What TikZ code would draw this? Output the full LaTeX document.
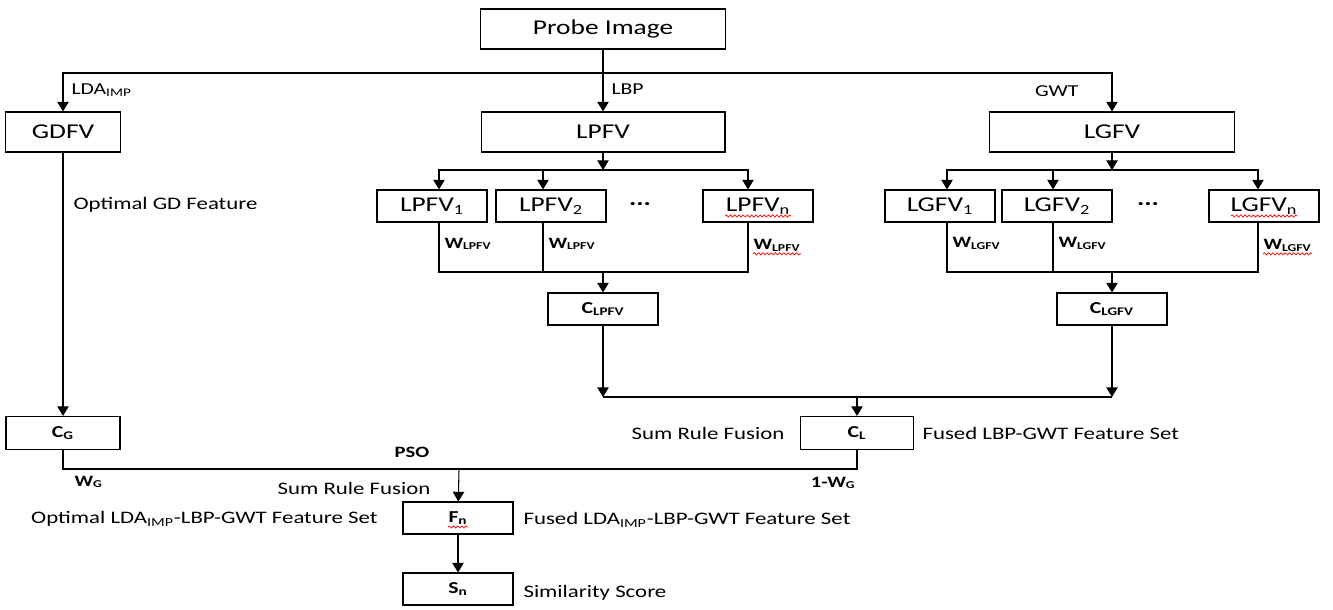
\documentclass[tikz,border=0pt]{standalone}
\usepackage{fontspec}
\setmainfont{Carlito}[FakeStretch=1.3]
\usepackage{tikz}
\usetikzlibrary{arrows.meta, positioning, decorations.pathmorphing}
\tikzset{%
	box/.style={
		draw,
		inner sep=0pt,
		minimum height=0.64cm,
		minimum width=2.2cm,
		font=\fontsize{12}{14}\selectfont
	},
	bigbox/.style={box, minimum height=0.8cm},
	cbox/.style={box, font=\fontsize{9.5}{11}\selectfont\bfseries},
	arr/.style={-{Triangle[length=5.5pt,width=6.5pt]}},
	lab/.style={inner sep=0pt, font=\fontsize{10}{12}\selectfont},
	toplab/.style={inner sep=0pt, font=\fontsize{9.5}{11}\selectfont},
	wlab/.style={inner sep=0pt, font=\fontsize{9}{11}\selectfont\bfseries},
	spell/.style={red, line width=0.4pt, decorate,
		decoration={snake, amplitude=0.6pt, segment length=2.4pt}},
}

\begin{document}
\begin{tikzpicture}[x=0.02cm, y=-0.02cm, line width=0.6pt]
			\useasboundingbox (0,0) rectangle (1333,609);
			
			% first level
			\node[bigbox, minimum width=4.9cm] (probe) at (603,29) {Probe Image};
			\node[bigbox, minimum width=2.3cm] (gdfv) at (63,132) {GDFV};
			\node[bigbox, minimum width=4.88cm] (lpfv) at (603,132) {LPFV};
			\node[bigbox, minimum width=4.9cm] (lgfv) at (1112,132) {LGFV};
			
			\coordinate (split) at (603,73);
			\draw[arr] (probe) -- (lpfv);
			\draw[arr] (split) -| (gdfv.north);
			\draw[arr] (split) -| (lgfv.north);
			
			\node[toplab, anchor=west] (lda) at (71,90) {LDA\textsubscript{IMP}};
			\node[toplab, anchor=west] (lbp) at (611,89) {LBP};
			\node[toplab, anchor=east] (gwt) at (1079,91) {GWT};
			\node[lab, anchor=west] (gdopt) at (73,205) {Optimal GD Feature};
			
			% LBP branch
			\node[box] (lpfv1) at (432,206) {LPFV\textsubscript{1}};
			\node[box] (lpfv2) at (551,206) {LPFV\textsubscript{2}};
			\node[box] (lpfvn) at (758,206) {LPFV\textsubscript{n}};
			\node[font=\fontsize{12}{14}\selectfont\bfseries] (lpdots) at (640,204) {...};
			\node[cbox] (clpfv) at (603,309) {C\textsubscript{LPFV}};
			
			\coordinate (lpsplit) at (603,170);
			\coordinate (lpjoin) at (603,272);
			\draw[arr] (lpfv) -- (lpsplit);
			\draw[arr] (lpsplit) -| ([xshift=0.14cm]lpfv1.north);
			\draw[arr] (lpsplit) -| ([xshift=-0.16cm]lpfv2.north);
			\draw[arr] (lpsplit) -| ([xshift=-0.2cm]lpfvn.north);
			\draw ([xshift=0.14cm]lpfv1.south) |- node[wlab, pos=0.25, right=1mm, yshift=2pt] (w1) {W\textsubscript{LPFV}} (lpjoin);
			\draw ([xshift=-0.16cm]lpfv2.south) |- node[wlab, pos=0.25, right=1mm, yshift=2pt] (w2) {W\textsubscript{LPFV}} (lpjoin);
			\draw ([xshift=-0.2cm]lpfvn.south) |- node[wlab, pos=0.25, right=1mm, yshift=1pt] (w3) {W\textsubscript{LPFV}} (lpjoin);
			\draw[arr] (lpjoin) -- (clpfv);
			
			% GWT branch
			\node[box] (lgfv1) at (940,206) {LGFV\textsubscript{1}};
			\node[box] (lgfv2) at (1057,206) {LGFV\textsubscript{2}};
			\node[box] (lgfvn) at (1264,206) {LGFV\textsubscript{n}};
			\node[font=\fontsize{12}{14}\selectfont\bfseries] (lgdots) at (1148,204) {...};
			\node[cbox] (clgfv) at (1112,309) {C\textsubscript{LGFV}};
			
			\coordinate (lgsplit) at (1112,170);
			\coordinate (lgjoin) at (1112,272);
			\draw[arr] (lgfv) -- (lgsplit);
			\draw[arr] (lgsplit) -| ([xshift=0.14cm]lgfv1.north);
			\draw[arr] (lgsplit) -| ([xshift=-0.08cm]lgfv2.north);
			\draw[arr] (lgsplit) -| ([xshift=-0.12cm]lgfvn.north);
			\draw ([xshift=0.14cm]lgfv1.south) |- node[wlab, pos=0.25, right=1mm, yshift=2pt] (w4) {W\textsubscript{LGFV}} (lgjoin);
			\draw ([xshift=-0.08cm]lgfv2.south) |- node[wlab, pos=0.25, right=1mm, yshift=2pt] (w5) {W\textsubscript{LGFV}} (lgjoin);
			\draw ([xshift=-0.12cm]lgfvn.south) |- node[wlab, pos=0.25, right=1mm, yshift=1pt] (w6) {W\textsubscript{LGFV}} (lgjoin);
			\draw[arr] (lgjoin) -- (clgfv);
			
			% fusion
			\node[cbox, minimum width=2.26cm, minimum height=0.66cm] (cl) at (857,433) {C\textsubscript{L}};
			\node[cbox, minimum width=2.28cm, minimum height=0.66cm] (cg) at (63,433) {C\textsubscript{G}};
			\node[lab, anchor=east] (sumrule1) at (785,433) {Sum Rule Fusion};
			\node[lab, anchor=west] (fusedlg) at (922,433) {Fused LBP-GWT Feature Set};
			
			\coordinate (ljoin) at (857,397);
			\draw[arr] (clpfv) -- (clpfv |- ljoin);
			\draw[arr] (clgfv) -- (clgfv |- ljoin);
			\draw (clpfv |- ljoin) -- (clgfv |- ljoin);
			\draw[arr] (ljoin) -- (cl);
			\draw[arr] (gdfv) -- (cg);
			
			\node[cbox] (fn) at (458,518) {F\textsubscript{n}};
			\node[cbox] (sn) at (458,589) {S\textsubscript{n}};
			
			\coordinate (gjoin) at (459,469);
			\draw (cg) |- (gjoin) -| (cl);
			\draw[arr] (gjoin) -- (fn);
			\draw[arr] (fn) -- (sn);
			
			\node[wlab] (pso) at (412,452) {PSO};
			\node[wlab, anchor=west] (wg) at (74,482) {W\textsubscript{G}};
			\node[wlab, anchor=east] (onewg) at (856,483) {1-W\textsubscript{G}};
			\node[lab, anchor=east] (sumrule2) at (431,488) {Sum Rule Fusion};
			\node[lab, anchor=east] (optset) at (378,519) {Optimal LDA\textsubscript{IMP}-LBP-GWT Feature Set};
			\node[lab, anchor=west] (fusedset) at (523,520) {Fused LDA\textsubscript{IMP}-LBP-GWT Feature Set};
			\node[lab, anchor=west] (simscore) at (523,593) {Similarity Score};
			
			% spelling marks
			\draw[spell] ([xshift=-0.66cm, yshift=-0.2cm]lpfvn.center) -- ([xshift=0.66cm, yshift=-0.2cm]lpfvn.center);
			\draw[spell] ([xshift=-0.66cm, yshift=-0.2cm]lgfvn.center) -- ([xshift=0.66cm, yshift=-0.2cm]lgfvn.center);
			\draw[spell] ([yshift=-1pt]w3.south west) -- ([yshift=-1pt]w3.south east);
			\draw[spell] ([yshift=-1pt]w6.south west) -- ([yshift=-1pt]w6.south east);
			\draw[spell] ([xshift=-0.2cm, yshift=-0.18cm]fn.center) -- ([xshift=0.2cm, yshift=-0.18cm]fn.center);
			
		\end{tikzpicture}
\end{document}
